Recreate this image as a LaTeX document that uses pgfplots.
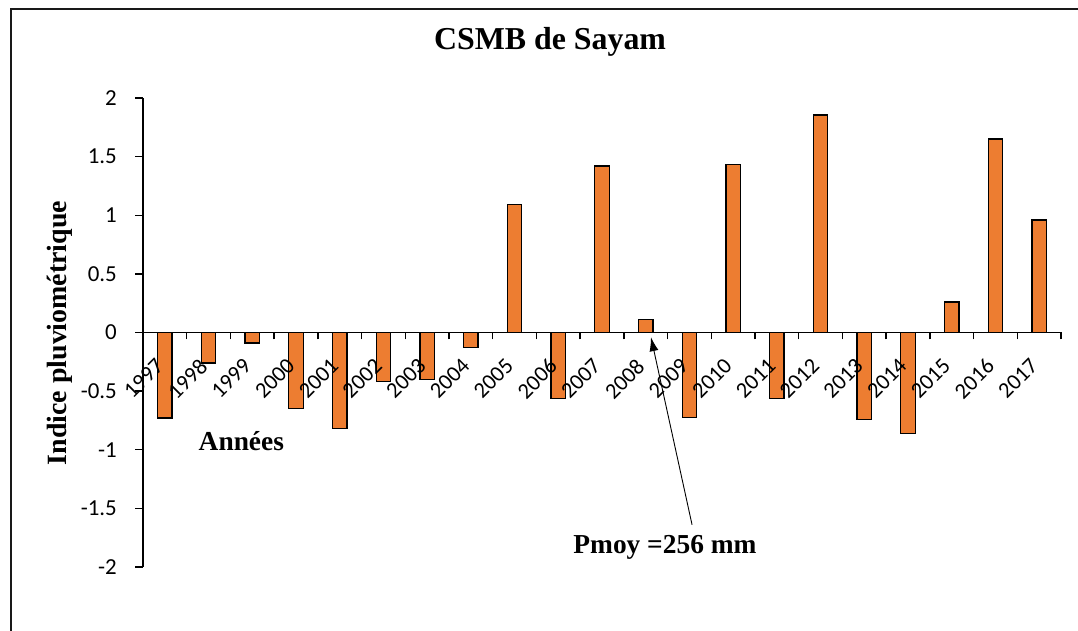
\documentclass[border=0pt]{standalone}
\usepackage{pgfplots}
\pgfplotsset{compat=1.18}
\usetikzlibrary{arrows.meta}
\usepackage{fontspec}
\setmainfont{Liberation Serif}
\newfontfamily\calib{Carlito}
\definecolor{barorange}{HTML}{ED7D31}
\begin{document}
\begin{tikzpicture}[x=1bp,y=1bp]
\useasboundingbox (0,0) rectangle (1078,631);
\begin{axis}[
  at={(143bp,64bp)}, anchor=south west,
  scale only axis, width=918bp, height=469bp,
  xmin=-0.5, xmax=20.5, ymin=-2, ymax=2,
  axis x line*=middle, axis y line*=left,
  axis line style={line width=1.6bp},
  axis on top,
  clip=false,
  tick align=outside,
  xtick={0,...,20},
  xticklabels={1997,1998,1999,2000,2001,2002,2003,2004,2005,2006,2007,2008,2009,2010,2011,2012,2013,2014,2015,2016,2017},
  major x tick style={draw=none},
  minor xtick={-0.5,0.5,...,20.5},
  minor x tick style={line width=1.4bp, black},
  minor tick length=7bp,
  ytick={-2,-1.5,-1,-0.5,0,0.5,1,1.5,2},
  yticklabels={-2,-1.5,-1,-0.5,0,0.5,1,1.5,2},
  major tick length=8bp,
  y tick style={line width=1.4bp, black},
  xticklabel style={font=\calib\fontsize{22.5}{24}\selectfont, inner sep=0pt, xshift=-5bp, yshift=-22bp, rotate=45, anchor=east},
  yticklabel style={font=\calib\fontsize{23}{26}\selectfont, inner sep=0pt, xshift=-18bp},
  title={CSMB de Sayam},
  title style={font=\bfseries\fontsize{32}{36}\selectfont, at={(axis description cs:0.4434,1.1066)}, anchor=center},
  ylabel={Indice pluviométrique},
  ylabel style={font=\bfseries\fontsize{28}{30}\selectfont, at={(axis description cs:-0.0904,0.499)}, anchor=center},
]
\addplot[ybar, bar width=14.5bp, fill=barorange, draw=black, line width=1.3bp] coordinates {
(0,-0.73) (1,-0.26) (2,-0.09) (3,-0.65) (4,-0.82) (5,-0.42) (6,-0.40)
(7,-0.13) (8,1.09) (9,-0.56) (10,1.42) (11,0.11) (12,-0.725) (13,1.43)
(14,-0.56) (15,1.855) (16,-0.74) (17,-0.86) (18,0.26) (19,1.65) (20,0.96)
};
\node[font=\bfseries\fontsize{27.5}{30}\selectfont] at (axis cs:1.75,-0.925) {Années};
\node[font=\bfseries\fontsize{27.5}{30}\selectfont] at (axis cs:11.44,-1.83) {Pmoy =256 mm};
\draw[-{Latex[length=14bp,width=9bp]}, line width=0.9bp] (axis cs:12.06,-1.64) -- (axis cs:11.12,-0.04);
\end{axis}
\draw[line width=2.6bp, black!90] (11,-5) -- (11,622) -- (1090,622);
\end{tikzpicture}
\end{document}
